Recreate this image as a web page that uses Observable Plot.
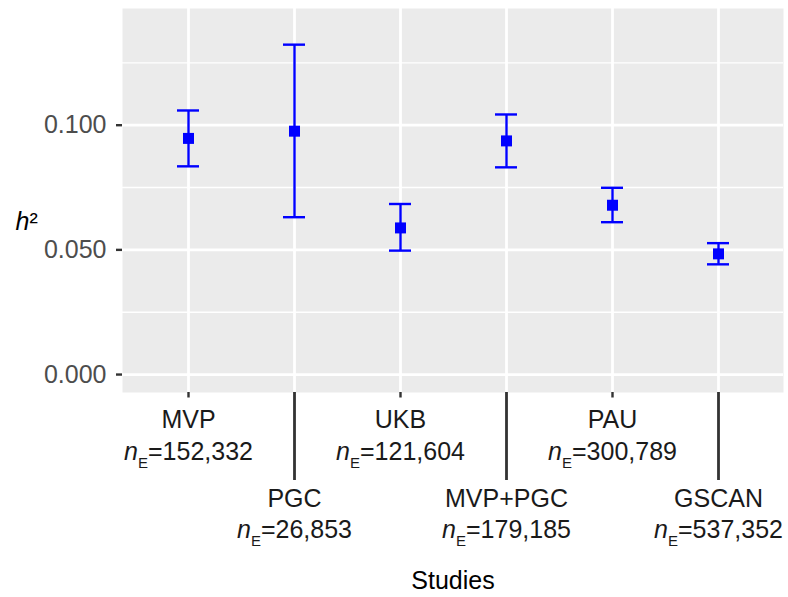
<!DOCTYPE html>
<html><head><meta charset="utf-8">
<script src="https://cdn.jsdelivr.net/npm/d3@7"></script>
<script src="https://cdn.jsdelivr.net/npm/@observablehq/plot@0.6"></script>
<style>body{margin:0;background:#fff}</style>
</head><body><div id="chart"></div>
<script>
const studies = ["MVP","PGC","UKB","MVP+PGC","PAU","GSCAN"];
const nE = ["152,332","26,853","121,604","179,185","300,789","537,352"];
const h2 = [0.0947,0.0976,0.0588,0.0937,0.0679,0.0484];
const lower = [0.0835,0.0631,0.0497,0.0831,0.0611,0.0442];
const upper = [0.1059,0.1323,0.0684,0.1043,0.0749,0.0527];
const yTicks = [0, 0.05, 0.1];
const yMinor = [0.025, 0.075, 0.125];

const data = studies.map((s,i)=>({study:s, n:nE[i], h2:h2[i], lo:lower[i], hi:upper[i], row:i%2}));
const row0 = data.filter(d=>d.row===0), row1 = data.filter(d=>d.row===1);
const font = "'Liberation Sans', Arial, Helvetica, sans-serif";
const fs = 25;

const plot = Plot.plot({
  width: 788, height: 597,
  marginLeft: 122, marginRight: 5, marginTop: 8, marginBottom: 205,
  style: {fontFamily: font, background: "white", overflow: "visible"},
  x: {type: "point", domain: studies, padding: 0.6, axis: null},
  y: {domain: [-0.0072, 0.1468], axis: null},
  marks: [
    Plot.frame({fill: "#EBEBEB", stroke: null}),
    Plot.gridY(yMinor, {stroke: "white", strokeOpacity: 1, strokeWidth: 1.4}),
    Plot.gridY(yTicks, {stroke: "white", strokeOpacity: 1, strokeWidth: 2.8}),
    Plot.gridX(studies, {stroke: "white", strokeOpacity: 1, strokeWidth: 2.8}),
    Plot.axisY(yTicks, {tickSize: 6, tickPadding: 10, tickFormat: d3.format(".3f"), fontSize: fs, fill: "#4D4D4D", stroke: "#333333", strokeWidth: 2.4, label: null}),
    Plot.axisX(row0.map(d=>d.study), {tickSize: 5.5, tickFormat: () => "", stroke: "#333333", strokeWidth: 2.4, label: null}),
    Plot.axisX(row1.map(d=>d.study), {tickSize: 88, tickFormat: () => "", stroke: "#333333", strokeWidth: 2.8, label: null}),
    Plot.ruleX(data, {x: "study", y1: "lo", y2: "hi", stroke: "blue", strokeWidth: 2.4}),
    Plot.ruleY(data, {x1: "study", x2: "study", y: "hi", insetLeft: -11, insetRight: -11, stroke: "blue", strokeWidth: 2.4}),
    Plot.ruleY(data, {x1: "study", x2: "study", y: "lo", insetLeft: -11, insetRight: -11, stroke: "blue", strokeWidth: 2.4}),
    Plot.dot(data, {x: "study", y: "h2", symbol: "square", r: 6.2, fill: "blue", stroke: null}),
    Plot.text(row0, {x: "study", text: "study", frameAnchor: "bottom", lineAnchor: "bottom", dy: 35, fontSize: fs, fill: "#1A1A1A"}),
    Plot.text(row0, {x: "study", text: "n", frameAnchor: "bottom", lineAnchor: "bottom", dy: 67, fontSize: fs, fill: "#1A1A1A"}),
    Plot.text(row1, {x: "study", text: "study", frameAnchor: "bottom", lineAnchor: "bottom", dy: 114, fontSize: fs, fill: "#1A1A1A"}),
    Plot.text(row1, {x: "study", text: "n", frameAnchor: "bottom", lineAnchor: "bottom", dy: 145, fontSize: fs, fill: "#1A1A1A"}),
    Plot.text(["Studies"], {frameAnchor: "bottom", lineAnchor: "bottom", dy: 196, fontSize: fs, fill: "black"}),
    Plot.text(["h"], {frameAnchor: "left", textAnchor: "start", lineAnchor: "bottom", dx: -107, dy: 29, fontSize: fs, fill: "black"})
  ]
});

const svg = d3.select(plot);
svg.selectAll("text").each(function() {
  if (this.querySelector("tspan")) return;
  const t = this.textContent;
  const s = d3.select(this);
  if (nE.includes(t)) {
    s.text(null);
    s.append("tspan").attr("font-style", "italic").text("n");
    s.append("tspan").attr("font-size", 15).attr("dy", 8).text("E");
    s.append("tspan").attr("dy", -8).text("=" + t);
  } else if (t === "h") {
    s.text(null);
    s.append("tspan").attr("font-style", "italic").text("h");
    s.append("tspan").text("\u00B2");
  }
});
document.getElementById("chart").appendChild(plot);
</script>
</body></html>
